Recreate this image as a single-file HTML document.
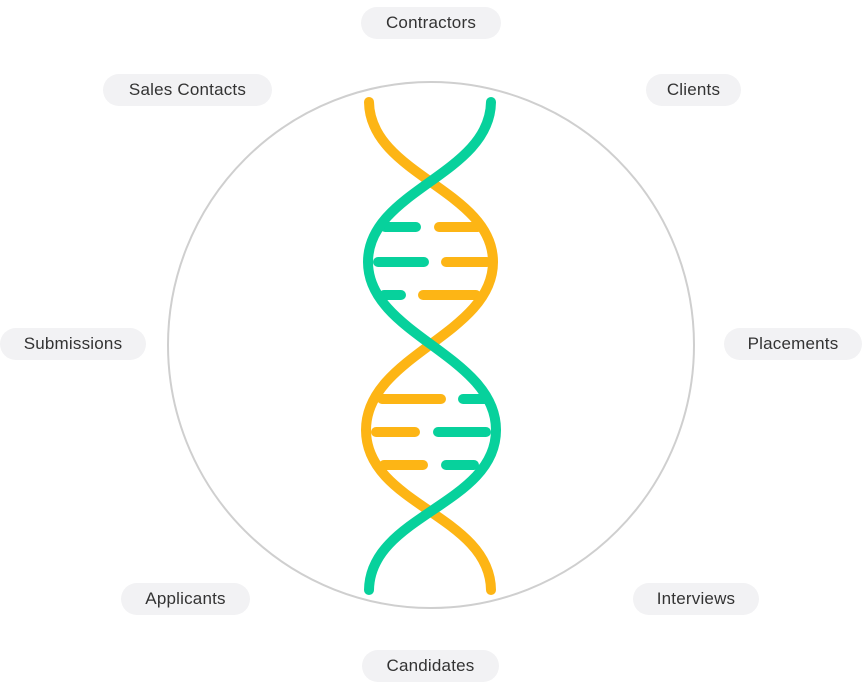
<!DOCTYPE html>
<html><head><style>
body{margin:0;width:862px;height:689px;background:#fff;position:relative;overflow:hidden;font-family:"Liberation Sans",sans-serif}
.p{position:absolute;height:32px;line-height:32px;border-radius:16px;background:#f2f2f4;color:#333;font-size:17px;text-align:center;letter-spacing:0.2px}
svg{position:absolute;left:0;top:0}
</style></head><body>
<svg width="862" height="689">
<circle cx="431" cy="345" r="263" fill="none" stroke="#cfcfcf" stroke-width="2"/>
<g stroke-linecap="round" stroke-width="10" fill="none">
<g stroke="#07d19c">
<path d="M385,227H416M378,262H424M384,295H401M463,399H485M438,432H486M446,465H474"/>
</g>
<g stroke="#fdb515">
<path d="M439,227H478M446,262H487M423,295H476M382,399H441M376,432H415M384,465H423"/>
</g>
<path d="M369,102 C370,175 493,190 493,262 C493,335 366,355 366,430 C366,505 490,515 491,590" stroke="#fdb515"/>
<path d="M491,102 C490,175 368,190 368,262 C368,335 496,355 496,430 C496,505 370,515 369,590" stroke="#07d19c"/>
</g>
</svg>
<div class="p" style="left:361px;top:7px;width:140px">Contractors</div>
<div class="p" style="left:103px;top:74px;width:169px">Sales Contacts</div>
<div class="p" style="left:646px;top:74px;width:95px">Clients</div>
<div class="p" style="left:0px;top:328px;width:146px">Submissions</div>
<div class="p" style="left:724px;top:328px;width:138px">Placements</div>
<div class="p" style="left:121px;top:583px;width:129px">Applicants</div>
<div class="p" style="left:633px;top:583px;width:126px">Interviews</div>
<div class="p" style="left:362px;top:650px;width:137px">Candidates</div>
</body></html>
